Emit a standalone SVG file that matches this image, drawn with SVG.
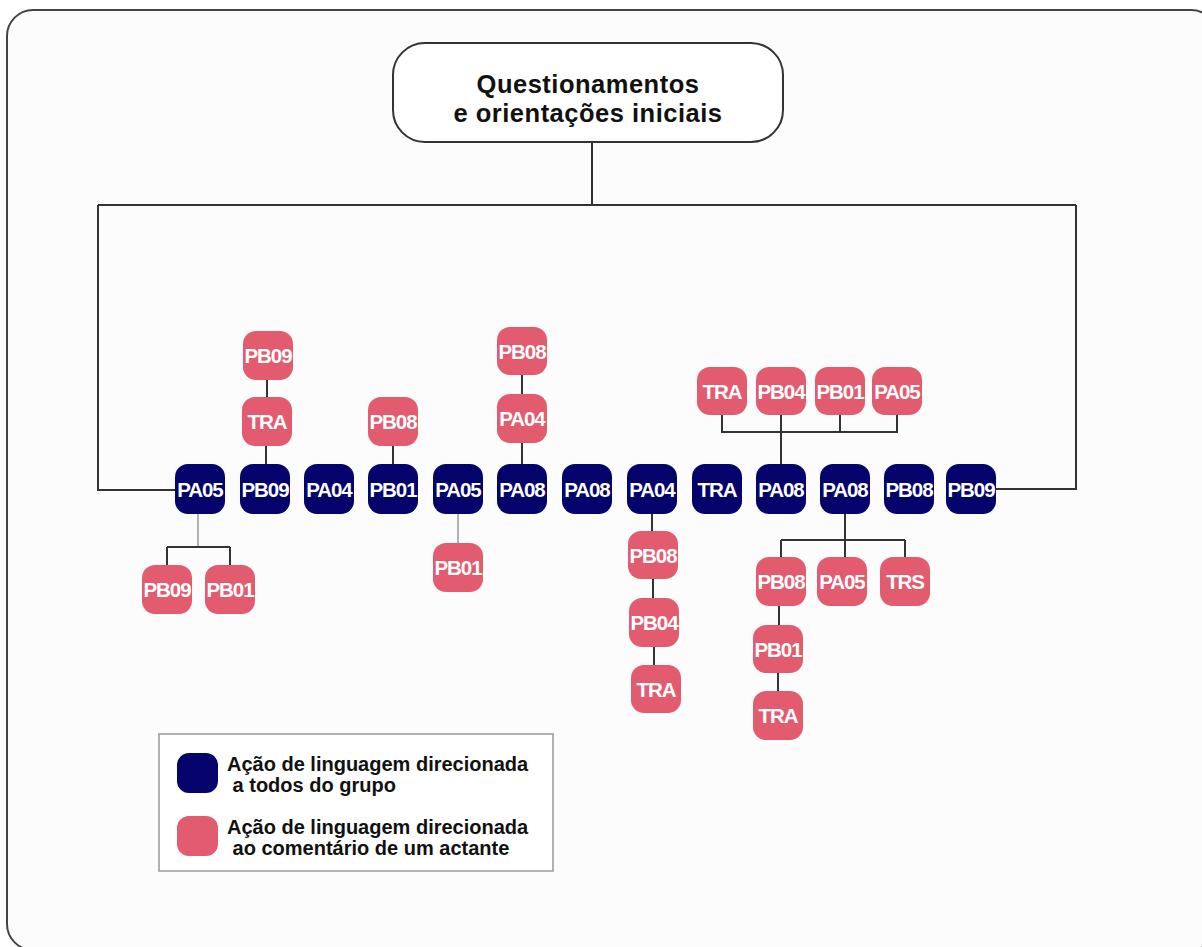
<svg xmlns="http://www.w3.org/2000/svg" width="1202" height="947" viewBox="0 0 1202 947">
<style>
.b{fill:#03036b}
.p{fill:#e25b6e}
.t{font-family:"Liberation Sans",Arial,sans-serif;font-weight:bold;font-size:20.5px;fill:#fff;text-anchor:middle;letter-spacing:-1.1px}
.c{stroke:#333;stroke-width:2;fill:none}
.l{stroke:#999;stroke-width:1.5;fill:none}
.lg{font-family:"Liberation Sans",Arial,sans-serif;font-weight:bold;font-size:20px;fill:#111}
.tt{font-family:"Liberation Sans",Arial,sans-serif;font-weight:bold;font-size:25.5px;fill:#111;text-anchor:middle;letter-spacing:0.5px}
</style>
<rect width="1202" height="947" fill="#fff"/>
<rect x="7" y="10" width="1210" height="940" rx="26" fill="#fcfcfc" stroke="#444" stroke-width="2"/>
<g id="connectors">
<path class="c" d="M592 142V205M98 205H1076M98 205V490H175M1076 205V489H996"/>
<path class="c" d="M267 380V397M266 446V465"/>
<path class="c" d="M393 446V465"/>
<path class="c" d="M522 375V394M522 443V465"/>
<path class="c" d="M722 415V432H897V415M781 415V465M840 415V432"/>
<path class="l" d="M198 513V547"/>
<path class="c" d="M167 547H230M167 547V565M230 547V565"/>
<path class="l" d="M458 513V543"/>
<path class="c" d="M652 513V531M653 579V598M654 647V665"/>
<path class="c" d="M845 513V540M781 540H905M781 540V557M845 540V557M905 540V557"/>
<path class="c" d="M779 606V625M778 673V691"/>
</g>
<g id="top">
<rect x="393" y="43" width="390" height="99" rx="32" fill="#fff" stroke="#333" stroke-width="2"/>
<text class="tt" x="588" y="93">Questionamentos</text>
<text class="tt" x="588" y="121.5">e orientações iniciais</text>
</g>
<g id="main-row">
<g id="m1"><rect class="b" x="175" y="464" width="50" height="50" rx="13"/><text class="t" x="200" y="497">PA05</text></g>
<g id="m2"><rect class="b" x="240" y="464" width="50" height="50" rx="13"/><text class="t" x="265" y="497">PB09</text></g>
<g id="m3"><rect class="b" x="304" y="464" width="50" height="50" rx="13"/><text class="t" x="329" y="497">PA04</text></g>
<g id="m4"><rect class="b" x="368" y="464" width="50" height="50" rx="13"/><text class="t" x="393" y="497">PB01</text></g>
<g id="m5"><rect class="b" x="433" y="464" width="50" height="50" rx="13"/><text class="t" x="458" y="497">PA05</text></g>
<g id="m6"><rect class="b" x="497" y="464" width="50" height="50" rx="13"/><text class="t" x="522" y="497">PA08</text></g>
<g id="m7"><rect class="b" x="562" y="464" width="50" height="50" rx="13"/><text class="t" x="587" y="497">PA08</text></g>
<g id="m8"><rect class="b" x="627" y="464" width="50" height="50" rx="13"/><text class="t" x="652" y="497">PA04</text></g>
<g id="m9"><rect class="b" x="692" y="464" width="50" height="50" rx="13"/><text class="t" x="717" y="497">TRA</text></g>
<g id="m10"><rect class="b" x="756" y="464" width="50" height="50" rx="13"/><text class="t" x="781" y="497">PA08</text></g>
<g id="m11"><rect class="b" x="820" y="464" width="50" height="50" rx="13"/><text class="t" x="845" y="497">PA08</text></g>
<g id="m12"><rect class="b" x="884" y="464" width="50" height="50" rx="13"/><text class="t" x="909" y="497">PB08</text></g>
<g id="m13"><rect class="b" x="946" y="464" width="50" height="50" rx="13"/><text class="t" x="971" y="497">PB09</text></g>
</g>
<g id="children">
<g id="a1"><rect class="p" x="243" y="331" width="50" height="49" rx="13"/><text class="t" x="268" y="363">PB09</text></g>
<g id="a2"><rect class="p" x="242" y="397" width="50" height="49" rx="13"/><text class="t" x="267" y="429">TRA</text></g>
<g id="a3"><rect class="p" x="368" y="397" width="50" height="49" rx="13"/><text class="t" x="393" y="429">PB08</text></g>
<g id="a4"><rect class="p" x="497" y="327" width="50" height="48" rx="13"/><text class="t" x="522" y="359">PB08</text></g>
<g id="a5"><rect class="p" x="497" y="394" width="50" height="49" rx="13"/><text class="t" x="522" y="426">PA04</text></g>
<g id="a6"><rect class="p" x="697" y="367" width="50" height="48" rx="13"/><text class="t" x="722" y="399">TRA</text></g>
<g id="a7"><rect class="p" x="756" y="367" width="50" height="48" rx="13"/><text class="t" x="781" y="399">PB04</text></g>
<g id="a8"><rect class="p" x="815" y="367" width="50" height="48" rx="13"/><text class="t" x="840" y="399">PB01</text></g>
<g id="a9"><rect class="p" x="872" y="367" width="50" height="48" rx="13"/><text class="t" x="897" y="399">PA05</text></g>
<g id="b1"><rect class="p" x="142" y="565" width="50" height="49" rx="13"/><text class="t" x="167" y="597">PB09</text></g>
<g id="b2"><rect class="p" x="205" y="565" width="50" height="49" rx="13"/><text class="t" x="230" y="597">PB01</text></g>
<g id="b3"><rect class="p" x="433" y="543" width="50" height="49" rx="13"/><text class="t" x="458" y="575">PB01</text></g>
<g id="b4"><rect class="p" x="628" y="531" width="50" height="48" rx="13"/><text class="t" x="653" y="563">PB08</text></g>
<g id="b5"><rect class="p" x="629" y="598" width="50" height="49" rx="13"/><text class="t" x="654" y="630">PB04</text></g>
<g id="b6"><rect class="p" x="631" y="665" width="50" height="48" rx="13"/><text class="t" x="656" y="697">TRA</text></g>
<g id="b7"><rect class="p" x="756" y="557" width="50" height="49" rx="13"/><text class="t" x="781" y="589">PB08</text></g>
<g id="b8"><rect class="p" x="817" y="557" width="50" height="49" rx="13"/><text class="t" x="842" y="589">PA05</text></g>
<g id="b9"><rect class="p" x="880" y="557" width="50" height="49" rx="13"/><text class="t" x="905" y="589">TRS</text></g>
<g id="b10"><rect class="p" x="753" y="625" width="50" height="48" rx="13"/><text class="t" x="778" y="657">PB01</text></g>
<g id="b11"><rect class="p" x="753" y="691" width="50" height="49" rx="13"/><text class="t" x="778" y="723">TRA</text></g>
</g>
<g id="legend">
<rect x="159" y="734" width="394" height="137" fill="#fff" stroke="#999" stroke-width="1.5"/>
<rect class="b" x="177" y="753" width="41" height="40" rx="12"/>
<rect class="p" x="177" y="816" width="41" height="40" rx="12"/>
<text class="lg" x="227" y="771">Ação de linguagem direcionada</text>
<text class="lg" x="227" y="792" xml:space="preserve"> a todos do grupo</text>
<text class="lg" x="227" y="834">Ação de linguagem direcionada</text>
<text class="lg" x="227" y="855" xml:space="preserve"> ao comentário de um actante</text>
</g>
</svg>
